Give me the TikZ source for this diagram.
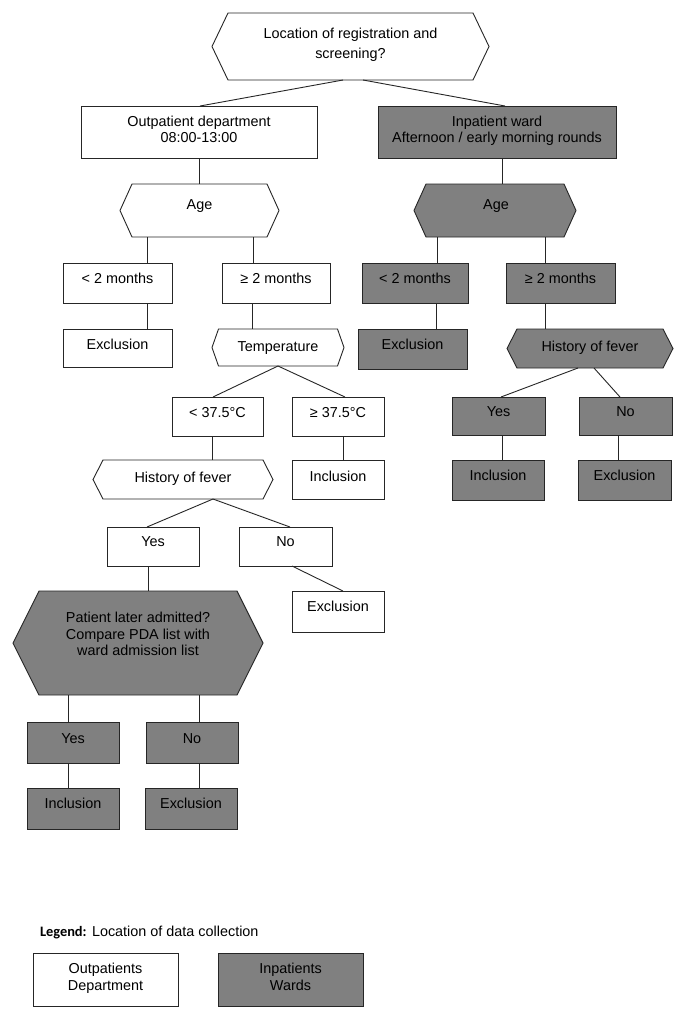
\documentclass[tikz,border=0pt]{standalone}
\usepackage{fontspec}
\setmainfont{Liberation Sans}
\newfontfamily\legfont{Carlito}
\tikzset{
  shp/.style={draw=black!85, line width=0.9pt, inner sep=0pt, outer sep=0pt},
  wbox/.style={shp, fill=white},
  gbox/.style={shp, fill=gray},
  txt/.style={anchor=base, inner sep=0pt, outer sep=0pt, font=\fontsize{14.4}{17}\selectfont},
  conn/.style={draw=black!85, line width=0.9pt},
}
% rectangle node: name, style, cx, cy, w, h
\newcommand\rbox[6]{\node[#2, minimum width=#5, minimum height=#6] (#1) at (#3,#4) {};}
% hexagon: name, style, cx, cy, w, h, indent
\newcommand\hexnode[7]{%
  \node[inner sep=0pt, outer sep=0pt, minimum width=#5, minimum height=#6] (#1) at (#3,#4) {};
  \draw[#2] ([xshift=#7]#1.north west) -- ([xshift=-#7]#1.north east) -- (#1.east)
    -- ([xshift=-#7]#1.south east) -- ([xshift=#7]#1.south west) -- (#1.west) -- cycle;
}
\begin{document}
\begin{tikzpicture}[x=1pt,y=-1pt]
\useasboundingbox[fill=white] (0,0) rectangle (685,1018);

% ---------- shapes ----------
\hexnode{top}{wbox}{350.5}{46.5}{277}{67}{16}
\rbox{outp}{wbox}{199}{132}{236}{52}
\rbox{inp}{gbox}{497}{132}{238}{52}

\hexnode{ageL}{wbox}{199.5}{210.5}{159}{53}{12}
\hexnode{ageR}{gbox}{495}{210.5}{162}{53}{12}

\rbox{ltL}{wbox}{117.5}{283}{109}{40}
\rbox{geL}{wbox}{276}{283}{108}{40}
\rbox{excA}{wbox}{117.5}{348}{109}{38}
\hexnode{temp}{wbox}{278}{347.5}{132}{37}{6.5}

\rbox{ltT}{wbox}{217.5}{416.5}{91}{39}
\rbox{geT}{wbox}{338}{416.5}{92}{39}
\hexnode{histL}{wbox}{183}{479.5}{180}{39}{10}
\rbox{incA}{wbox}{338}{479.5}{92}{39}

\rbox{yesA}{wbox}{153}{546.5}{92}{39}
\rbox{noA}{wbox}{285.5}{546.5}{93}{39}
\rbox{excB}{wbox}{338}{611.5}{92}{41}
\hexnode{pda}{gbox}{138}{643}{250}{104}{26}

\rbox{yesB}{gbox}{73}{742.5}{92}{41}
\rbox{noB}{gbox}{192}{742.5}{92}{41}
\rbox{incB}{gbox}{73}{808.5}{92}{41}
\rbox{excC}{gbox}{191}{808.5}{92}{41}

\rbox{ltR}{gbox}{415}{283}{106}{40}
\rbox{geR}{gbox}{560.5}{283}{109}{40}
\rbox{excD}{gbox}{412.5}{349}{109}{40}
\hexnode{histR}{gbox}{590}{348.5}{166}{39}{10}

\rbox{yesC}{gbox}{498.5}{416}{93}{38}
\rbox{noC}{gbox}{625.5}{416}{93}{38}
\rbox{incC}{gbox}{498}{480}{92}{40}
\rbox{excE}{gbox}{624.5}{480}{93}{40}

\rbox{legO}{wbox}{105.5}{979.5}{145}{53}
\rbox{legI}{gbox}{290.5}{979.5}{145}{53}

% ---------- connectors ----------
\draw[conn] (343,0 |- top.south) -- (200,0 |- outp.north);
\draw[conn] (363,0 |- top.south) -- (505,0 |- inp.north);
\draw[conn] (199,0 |- outp.south) -- (199,0 |- ageL.north);
\draw[conn] (502,0 |- inp.south) -- (502,0 |- ageR.north);

\draw[conn] (147,0 |- ageL.south) -- (147,0 |- ltL.north);
\draw[conn] (253,0 |- ageL.south) -- (253,0 |- geL.north);
\draw[conn] (147,0 |- ltL.south) -- (147,0 |- excA.north);
\draw[conn] (252,0 |- geL.south) -- (252,0 |- temp.north);

\draw[conn] (temp.south) -- (213,0 |- ltT.north);
\draw[conn] (temp.south) -- (345,0 |- geT.north);
\draw[conn] (212,0 |- ltT.south) -- (212,0 |- histL.north);
\draw[conn] (343,0 |- geT.south) -- (343,0 |- incA.north);

\draw[conn] (213,0 |- histL.south) -- (147,0 |- yesA.north);
\draw[conn] (213,0 |- histL.south) -- (290,0 |- noA.north);
\draw[conn] (148,0 |- yesA.south) -- (148,0 |- pda.north);
\draw[conn] (292,0 |- noA.south) -- (343,0 |- excB.north);

\draw[conn] (68,0 |- pda.south) -- (68,0 |- yesB.north);
\draw[conn] (199,0 |- pda.south) -- (199,0 |- noB.north);
\draw[conn] (68,0 |- yesB.south) -- (68,0 |- incB.north);
\draw[conn] (199,0 |- noB.south) -- (199,0 |- excC.north);

\draw[conn] (437,0 |- ageR.south) -- (437,0 |- ltR.north);
\draw[conn] (545,0 |- ageR.south) -- (545,0 |- geR.north);
\draw[conn] (436,0 |- ltR.south) -- (436,0 |- excD.north);
\draw[conn] (545,0 |- geR.south) -- (545,0 |- histR.north);

\draw[conn] (578,0 |- histR.south) -- (501,0 |- yesC.north);
\draw[conn] (594,0 |- histR.south) -- (620,0 |- noC.north);
\draw[conn] (502,0 |- yesC.south) -- (502,0 |- incC.north);
\draw[conn] (618,0 |- noC.south) -- (618,0 |- excE.north);

% ---------- texts ----------
\node[txt] (tTop1) at (350.5,38) {Location of registration and};
\node[txt] (tTop2) at (350.5,58) {screening?};
\node[txt] (tOut1) at (199,126) {Outpatient department};
\node[txt] (tOut2) at (199,142) {08:00-13:00};
\node[txt] (tIn1) at (497,126) {Inpatient ward};
\node[txt] (tIn2) at (497,142) {Afternoon / early morning rounds};

\node[txt] (tAgeL) at (199.5,209) {Age};
\node[txt] (tAgeR) at (496,209) {Age};

\node[txt] (tltL) at (117.5,283) {< 2 months};
\node[txt] (tgeL) at (276,283) {≥ 2 months};
\node[txt] (texcA) at (117.5,349) {Exclusion};
\node[txt] (ttemp) at (278,351) {Temperature};
\node[txt] (tltT) at (217.5,417) {< 37.5°C};
\node[txt] (tgeT) at (338,417) {≥ 37.5°C};
\node[txt] (thistL) at (183,482) {History of fever};
\node[txt] (tincA) at (338,481) {Inclusion};
\node[txt] (tyesA) at (153,546) {Yes};
\node[txt] (tnoA) at (285.5,546) {No};
\node[txt] (texcB) at (338,611) {Exclusion};
\node[txt] (tpda1) at (138,622) {Patient later admitted?};
\node[txt] (tpda2) at (138,639) {Compare PDA list with};
\node[txt] (tpda3) at (138,655) {ward admission list};
\node[txt] (tyesB) at (73,743) {Yes};
\node[txt] (tnoB) at (192,743) {No};
\node[txt] (tincB) at (73,808) {Inclusion};
\node[txt] (texcC) at (191,808) {Exclusion};

\node[txt] (tltR) at (415,283) {< 2 months};
\node[txt] (tgeR) at (560.5,283) {≥ 2 months};
\node[txt] (texcD) at (412.5,349) {Exclusion};
\node[txt] (thistR) at (590,351) {History of fever};
\node[txt] (tyesC) at (498.5,416) {Yes};
\node[txt] (tnoC) at (625.5,416) {No};
\node[txt] (tincC) at (498,480) {Inclusion};
\node[txt] (texcE) at (624.5,480) {Exclusion};

\node[txt, anchor=base west] (tleg) at (40,936) {{\legfont\bfseries Legend:} Location of data collection};
\node[txt] (tlegO1) at (105.5,973) {Outpatients};
\node[txt] (tlegO2) at (105.5,990) {Department};
\node[txt] (tlegI1) at (290.5,973) {Inpatients};
\node[txt] (tlegI2) at (290.5,990) {Wards};
\end{tikzpicture}
\end{document}
